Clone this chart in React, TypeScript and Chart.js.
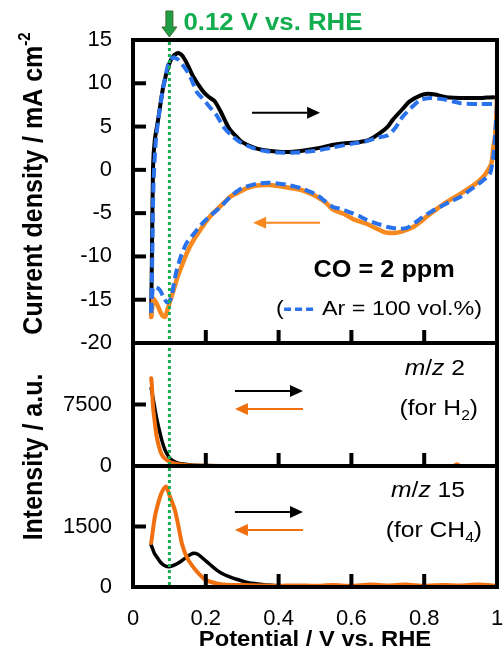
import React, { useEffect, useRef } from 'react';
import { Chart, registerables } from 'chart.js';

Chart.register(...registerables);

const FAMILY = '"Liberation Sans", Arial, Helvetica, sans-serif';

// ---------------- x axis (potential / V vs. RHE) ----------------
const potentialMin = 0;
const potentialMax = 1;
const potentialStep = 0.2;
const markerPotential = 0.1; // green dotted guide line
const markerLabel = '0.12 V vs. RHE';

// ---------------- CV panel (current density / mA cm-2) ----------------
const cvTicks = [-20, -15, -10, -5, 0, 5, 10, 15];

const coFwdPotential = [0.05, 0.052, 0.055, 0.06, 0.069, 0.083, 0.1, 0.112, 0.124, 0.135, 0.148, 0.165, 0.19, 0.206, 0.225, 0.24, 0.255, 0.267, 0.285, 0.3, 0.33, 0.357, 0.4, 0.44, 0.478, 0.52, 0.55, 0.59, 0.62, 0.65, 0.68, 0.7, 0.714, 0.74, 0.76, 0.79, 0.81, 0.83, 0.86, 0.92, 0.96, 0.99, 1.0];
const coFwdCurrent = [-17, -10, 0.3, 3.5, 5.8, 9.6, 12.3, 13.2, 13.5, 13.2, 12.3, 10.8, 9.2, 8.5, 7.9, 6.8, 5.5, 4.6, 3.8, 3.2, 2.6, 2.3, 2.1, 2.1, 2.3, 2.6, 2.9, 3.1, 3.2, 3.5, 4.3, 5.0, 5.8, 7.0, 7.9, 8.6, 8.8, 8.7, 8.4, 8.3, 8.3, 8.4, 8.3];

const coRevPotential = [1.0, 0.998, 0.995, 0.99, 0.985, 0.97, 0.953, 0.935, 0.917, 0.89, 0.862, 0.835, 0.807, 0.79, 0.77, 0.74, 0.714, 0.69, 0.67, 0.64, 0.605, 0.58, 0.55, 0.53, 0.505, 0.48, 0.46, 0.42, 0.376, 0.34, 0.313, 0.29, 0.267, 0.245, 0.22, 0.2, 0.184, 0.165, 0.148, 0.133, 0.12, 0.11, 0.1, 0.093, 0.088, 0.08, 0.074, 0.069, 0.062, 0.056, 0.05];
const coRevCurrent = [8.3, 6.1, 4.0, 2.6, 0.8, -0.4, -1.2, -1.8, -2.3, -3.0, -3.7, -4.5, -5.4, -6.0, -6.6, -7.1, -7.3, -7.2, -6.8, -6.2, -5.7, -5.1, -4.6, -3.8, -3.1, -2.6, -2.3, -2.0, -1.75, -1.8, -2.1, -2.6, -3.1, -4.0, -5.0, -6.0, -7.0, -8.2, -9.6, -11.2, -12.7, -14.1, -15.4, -16.4, -17.0, -16.8, -16.3, -15.8, -15.2, -14.9, -17];

const arFwdPotential = [0.05, 0.053, 0.056, 0.062, 0.07, 0.083, 0.097, 0.11, 0.125, 0.147, 0.161, 0.175, 0.19, 0.21, 0.23, 0.248, 0.27, 0.294, 0.33, 0.36, 0.4, 0.45, 0.5, 0.55, 0.6, 0.64, 0.67, 0.7, 0.72, 0.74, 0.77, 0.79, 0.82, 0.86, 0.9, 0.95, 0.99, 1.0];
const arFwdCurrent = [-16.5, -10, -2, 3, 6, 9.5, 12.2, 13.0, 12.7, 11.5, 10.4, 9.0, 8.3, 7.3, 6.3, 5.0, 4.0, 3.2, 2.5, 2.2, 2.0, 2.0, 2.2, 2.6, 3.0, 3.3, 3.7, 4.0, 4.8, 6.1, 7.4, 8.1, 8.3, 8.1, 7.7, 7.6, 7.6, 7.5];

const arRevPotential = [1.0, 0.996, 0.99, 0.98, 0.953, 0.93, 0.9, 0.87, 0.843, 0.82, 0.797, 0.775, 0.753, 0.73, 0.7, 0.67, 0.643, 0.62, 0.596, 0.57, 0.55, 0.53, 0.505, 0.46, 0.42, 0.376, 0.34, 0.3, 0.27, 0.24, 0.215, 0.19, 0.165, 0.148, 0.133, 0.12, 0.112, 0.107, 0.1, 0.093, 0.085, 0.074, 0.065, 0.055, 0.05];
const arRevCurrent = [7.5, 4.5, 1.5, -0.5, -1.5, -2.2, -3.1, -3.7, -4.3, -4.8, -5.4, -6.1, -6.7, -6.8, -6.6, -6.2, -5.8, -5.3, -4.9, -4.5, -4.3, -3.7, -2.9, -2.1, -1.7, -1.5, -1.6, -2.1, -3.0, -4.3, -5.2, -6.2, -7.5, -8.4, -9.8, -11.6, -13.2, -14.5, -15.2, -15.3, -14.8, -13.9, -13.6, -13.6, -16.5];

// ---------------- m/z 2 panel (H2 intensity) ----------------
const h2Ticks = [0, 7500, 15000];
const h2FwdPotential = [0.05, 0.055, 0.06, 0.065, 0.07, 0.08, 0.088, 0.097, 0.106, 0.12, 0.138, 0.16, 0.2, 0.25, 0.3, 0.4, 0.5, 0.6, 0.7, 0.8, 0.9, 1.0];
const h2FwdIntensity = [9500, 8300, 7000, 5800, 4800, 3000, 1950, 1200, 730, 420, 240, 120, 50, 20, 0, 0, 0, 0, 0, 0, 0, 0];
const h2RevPotential = [1.0, 0.9, 0.89, 0.88, 0.8, 0.7, 0.6, 0.5, 0.4, 0.3, 0.2, 0.15, 0.12, 0.105, 0.093, 0.083, 0.074, 0.065, 0.06, 0.055, 0.052, 0.05];
const h2RevIntensity = [0, 0, 200, 0, 0, 0, 0, 0, 0, 0, 20, 80, 240, 400, 730, 1100, 1950, 3570, 5240, 7200, 9800, 10700];

// ---------------- m/z 15 panel (CH4 intensity) ----------------
const ch4Ticks = [0, 1500, 3000];
const ch4FwdPotential = [0.05, 0.058, 0.065, 0.075, 0.085, 0.097, 0.11, 0.129, 0.15, 0.166, 0.178, 0.192, 0.21, 0.23, 0.25, 0.275, 0.3, 0.32, 0.35, 0.37, 0.4, 0.5, 0.6, 0.7, 0.8, 0.9, 1.0];
const ch4FwdIntensity = [1040, 850, 750, 620, 540, 500, 530, 620, 760, 835, 810, 710, 570, 420, 310, 220, 150, 100, 70, 50, 30, 20, 20, 20, 20, 20, 20];
const ch4RevPotential = [1.0, 0.95, 0.9, 0.85, 0.8, 0.75, 0.7, 0.65, 0.6, 0.55, 0.5, 0.45, 0.4, 0.35, 0.3, 0.27, 0.23, 0.2, 0.184, 0.165, 0.147, 0.134, 0.125, 0.115, 0.102, 0.091, 0.083, 0.074, 0.06, 0.05];
const ch4RevIntensity = [30, 60, 40, 50, 30, 60, 40, 60, 30, 50, 30, 40, 30, 40, 50, 50, 90, 170, 300, 500, 750, 1090, 1500, 1910, 2230, 2490, 2420, 2230, 1740, 1090];

// ---------------- styles ----------------
const BLACK = '#000000';
const ORANGE_CV = '#F7891F';
const ORANGE_MS = '#F0700F';
const BLUE = '#2A72EC';
const GREEN = '#12AD4F';
const GREEN_DOT = '#16B050';

const pts = (xs: number[], ys: number[]) => xs.map((x, i) => ({ x, y: ys[i] }));

type Run = { text: string; font: string; color?: string; dy?: number };

function drawRuns(
  ctx: CanvasRenderingContext2D,
  runs: Run[],
  x: number,
  y: number,
  align: 'left' | 'right' | 'center',
  stretch: number,
  rotate = false
) {
  ctx.save();
  let total = 0;
  for (const r of runs) {
    ctx.font = r.font;
    total += ctx.measureText(r.text).width;
  }
  ctx.translate(x, y);
  if (rotate) {
    ctx.rotate(-Math.PI / 2);
    ctx.scale(1, stretch);
  } else {
    ctx.scale(stretch, 1);
  }
  let cx = align === 'left' ? 0 : align === 'right' ? -total : -total / 2;
  ctx.textAlign = 'left';
  ctx.textBaseline = 'alphabetic';
  for (const r of runs) {
    ctx.font = r.font;
    ctx.fillStyle = r.color || '#000';
    ctx.fillText(r.text, cx, r.dy || 0);
    cx += ctx.measureText(r.text).width;
  }
  ctx.restore();
}

function drawArrow(ctx: CanvasRenderingContext2D, x0: number, x1: number, y: number, color: string) {
  const dir = Math.sign(x1 - x0);
  const headLen = 13;
  const headHalf = 6;
  ctx.save();
  ctx.strokeStyle = color;
  ctx.fillStyle = color;
  ctx.lineWidth = 2;
  ctx.beginPath();
  ctx.moveTo(x0, y);
  ctx.lineTo(x1 - dir * headLen, y);
  ctx.stroke();
  ctx.beginPath();
  ctx.moveTo(x1, y);
  ctx.lineTo(x1 - dir * headLen, y - headHalf);
  ctx.lineTo(x1 - dir * headLen, y + headHalf);
  ctx.closePath();
  ctx.fill();
  ctx.restore();
}

const font = (size: number, weight = '', style = '') => `${style} ${weight} ${size}px ${FAMILY}`.trim();

const decorPlugin = {
  id: 'decor',
  afterDatasetsDraw(chart: any) {
    const ctx: CanvasRenderingContext2D = chart.ctx;
    const xs = chart.scales.x;
    const area = chart.chartArea;
    const yCV = chart.scales.yCV;
    const yH2 = chart.scales.yH2;
    const yCH4 = chart.scales.yCH4;
    const panels = [yCV, yH2, yCH4];
    const px = (v: number) => xs.getPixelForValue(v);

    // green dotted guide
    const xd = px(markerPotential);
    ctx.save();
    ctx.strokeStyle = GREEN_DOT;
    ctx.lineWidth = 3;
    ctx.setLineDash([3, 3]);
    ctx.beginPath();
    ctx.moveTo(xd, area.top + 2);
    ctx.lineTo(xd, area.bottom);
    ctx.stroke();
    ctx.restore();

    // frames and inward ticks
    ctx.save();
    ctx.strokeStyle = '#000';
    ctx.lineWidth = 4;
    const TICK = 13;
    for (const s of panels) {
      ctx.strokeRect(area.left, s.top, area.right - area.left, s.bottom - s.top);
      for (const t of s.ticks) {
        if (t.value <= s.min || t.value >= s.max) continue;
        const py = s.getPixelForValue(t.value);
        ctx.beginPath();
        ctx.moveTo(area.left, py);
        ctx.lineTo(area.left + TICK, py);
        ctx.stroke();
      }
      for (const t of xs.ticks) {
        if (t.value <= xs.min + 1e-6 || t.value >= xs.max - 1e-6) continue;
        const tx = px(t.value);
        ctx.beginPath();
        ctx.moveTo(tx, s.bottom);
        ctx.lineTo(tx, s.bottom - TICK);
        ctx.stroke();
      }
    }
    ctx.restore();

    // green marker arrow + label
    ctx.save();
    ctx.fillStyle = '#1F9E45';
    ctx.strokeStyle = '#3F6A2A';
    ctx.lineWidth = 1;
    ctx.beginPath();
    ctx.moveTo(xd - 3.5, 11);
    ctx.lineTo(xd + 3.5, 11);
    ctx.lineTo(xd + 3.5, 27);
    ctx.lineTo(xd + 7.5, 27);
    ctx.lineTo(xd, 37);
    ctx.lineTo(xd - 7.5, 27);
    ctx.lineTo(xd - 3.5, 27);
    ctx.closePath();
    ctx.fill();
    ctx.stroke();
    ctx.restore();
    drawRuns(ctx, [{ text: markerLabel, font: font(23, 'bold'), color: GREEN }], xd + 14, 30, 'left', 1.12);

    // direction arrows
    drawArrow(ctx, px(0.327), px(0.514), yCV.getPixelForValue(6.6), BLACK);
    drawArrow(ctx, px(0.514), px(0.33), yCV.getPixelForValue(-6.1), ORANGE_CV);
    drawArrow(ctx, px(0.28), px(0.467), yH2.getPixelForValue(9150), BLACK);
    drawArrow(ctx, px(0.467), px(0.28), yH2.getPixelForValue(6950), ORANGE_MS);
    drawArrow(ctx, px(0.28), px(0.467), yCH4.getPixelForValue(1860), BLACK);
    drawArrow(ctx, px(0.467), px(0.28), yCH4.getPixelForValue(1414), ORANGE_MS);

    // CV annotations
    drawRuns(ctx, [{ text: 'CO = 2 ppm', font: font(23, 'bold') }], px(0.69), yCV.getPixelForValue(-12.4), 'center', 1.1);
    const legY = yCV.getPixelForValue(-16.8);
    drawRuns(ctx, [{ text: '(', font: font(21) }], px(0.393), legY, 'left', 1.1);
    ctx.save();
    ctx.strokeStyle = BLUE;
    ctx.lineWidth = 3.5;
    ctx.setLineDash([7, 4]);
    ctx.beginPath();
    ctx.moveTo(px(0.415), legY - 6);
    ctx.lineTo(px(0.498), legY - 6);
    ctx.stroke();
    ctx.restore();
    drawRuns(ctx, [{ text: 'Ar = 100 vol.%)', font: font(21) }], px(0.959), legY, 'right', 1.11);

    // MS annotations
    const mz = (n: string): Run[] => [
      { text: 'm', font: font(22, '', 'italic') },
      { text: '/', font: font(22) },
      { text: 'z', font: font(22, '', 'italic') },
      { text: ' ' + n, font: font(22) },
    ];
    drawRuns(ctx, mz('2'), px(0.912), yH2.getPixelForValue(11100), 'right', 1.12);
    drawRuns(
      ctx,
      [
        { text: '(for H', font: font(22) },
        { text: '2', font: font(14), dy: 5 },
        { text: ')', font: font(22) },
      ],
      px(0.948),
      yH2.getPixelForValue(6220),
      'right',
      1.12
    );
    drawRuns(ctx, mz('15'), px(0.912), yCH4.getPixelForValue(2231), 'right', 1.12);
    drawRuns(
      ctx,
      [
        { text: '(for CH', font: font(22) },
        { text: '4', font: font(14), dy: 5 },
        { text: ')', font: font(22) },
      ],
      px(0.959),
      yCH4.getPixelForValue(1240),
      'right',
      1.12
    );

    // axis titles
    drawRuns(ctx, [{ text: 'Potential / V vs. RHE', font: font(22, 'bold') }], (area.left + area.right) / 2, 646, 'center', 1.08);
    drawRuns(
      ctx,
      [
        { text: 'Current density / mA cm', font: font(25, 'bold') },
        { text: '-2', font: font(15, 'bold'), dy: -11 },
      ],
      42,
      (yCV.top + yCV.bottom) / 2 - 8,
      'center',
      1.08,
      true
    );
    drawRuns(ctx, [{ text: 'Intensity / a.u.', font: font(25, 'bold') }], 42, (yH2.top + yCH4.bottom) / 2 - 8, 'center', 1.08, true);
  },
};

export default function App() {
  const ref = useRef<HTMLCanvasElement | null>(null);

  useEffect(() => {
    if (!ref.current) return;
    const tickFont = { family: FAMILY, size: 22 };
    const solid = { showLine: true, pointRadius: 0, tension: 0.2, fill: false, borderCapStyle: 'round', borderJoinStyle: 'round' };
    const yScale = (min: number, max: number, ticks: number[], weight: number, hideMax: boolean) => ({
      type: 'linear',
      position: 'left',
      stack: 'panels',
      stackWeight: weight,
      min,
      max,
      grid: { display: false, drawTicks: false },
      border: { display: false },
      ticks: {
        font: tickFont,
        color: '#000',
        padding: 21,
        autoSkip: false,
        callback: (v: number) => (hideMax && v === max ? '' : String(v)),
      },
      afterBuildTicks: (s: any) => {
        s.ticks = ticks.map((value) => ({ value }));
      },
      afterFit: (s: any) => {
        s.width = 133;
        s.paddingTop = 0;
        s.paddingBottom = 0;
      },
    });

    const chart = new Chart(ref.current, {
      type: 'scatter',
      data: {
        datasets: [
          { ...solid, label: 'Ar forward', data: pts(arFwdPotential, arFwdCurrent), yAxisID: 'yCV', borderColor: BLUE, borderWidth: 4, borderDash: [10, 5], borderCapStyle: 'butt' },
          { ...solid, label: 'Ar reverse', data: pts(arRevPotential, arRevCurrent), yAxisID: 'yCV', borderColor: BLUE, borderWidth: 4, borderDash: [10, 5], borderCapStyle: 'butt' },
          { ...solid, label: 'CO reverse', data: pts(coRevPotential, coRevCurrent), yAxisID: 'yCV', borderColor: ORANGE_CV, borderWidth: 4.5 },
          { ...solid, label: 'CO forward', data: pts(coFwdPotential, coFwdCurrent), yAxisID: 'yCV', borderColor: BLACK, borderWidth: 4 },
          { ...solid, label: 'm/z 2 reverse', data: pts(h2RevPotential, h2RevIntensity), yAxisID: 'yH2', borderColor: ORANGE_MS, borderWidth: 4 },
          { ...solid, label: 'm/z 2 forward', data: pts(h2FwdPotential, h2FwdIntensity), yAxisID: 'yH2', borderColor: BLACK, borderWidth: 3.5 },
          { ...solid, label: 'm/z 15 reverse', data: pts(ch4RevPotential, ch4RevIntensity), yAxisID: 'yCH4', borderColor: ORANGE_MS, borderWidth: 4 },
          { ...solid, label: 'm/z 15 forward', data: pts(ch4FwdPotential, ch4FwdIntensity), yAxisID: 'yCH4', borderColor: BLACK, borderWidth: 3.5 },
        ],
      },
      options: {
        animation: false,
        responsive: true,
        maintainAspectRatio: false,
        layout: { padding: { top: 40, right: 7, bottom: 0, left: 0 } },
        plugins: { legend: { display: false }, tooltip: { enabled: false } },
        events: [],
        scales: {
          x: {
            type: 'linear',
            position: 'bottom',
            min: potentialMin,
            max: potentialMax,
            grid: { display: false, drawTicks: false },
            border: { display: false },
            ticks: {
              stepSize: potentialStep,
              font: tickFont,
              color: '#000',
              padding: 19,
              maxRotation: 0,
              autoSkip: false,
              callback: (v: number) => String(Math.round(v * 10) / 10),
            },
            afterFit: (s: any) => {
              s.height = 75;
              s.paddingLeft = 0;
              s.paddingRight = 0;
            },
          },
          // left-side stacked axes are laid out in reverse order of definition
          yCH4: yScale(0, 3000, ch4Ticks, 121, true),
          yH2: yScale(0, 15000, h2Ticks, 123, true),
          yCV: yScale(-20, 15, cvTicks, 303, false),
        } as any,
      } as any,
      plugins: [decorPlugin],
    } as any);
    return () => chart.destroy();
  }, []);

  return (
    <div style={{ position: 'absolute', left: 0, top: 0, width: 504, height: 662, background: '#fff' }}>
      <canvas ref={ref} />
    </div>
  );
}
